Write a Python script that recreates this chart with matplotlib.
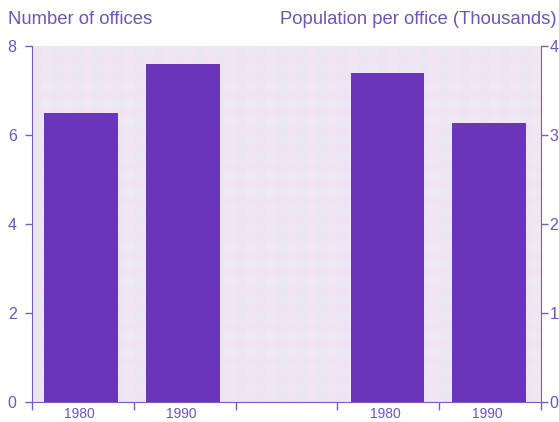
import matplotlib
matplotlib.use("Agg")
import matplotlib.pyplot as plt
import numpy as np

# offices and population per office, two census years each
years = ["1980", "1990"]
offices = [6.5, 7.6]
population_per_office = [3.7, 3.13]

purple = "#6a35b8"
text_purple = "#6f55b5"
axis_purple = "#7a5cc0"

plt.rcParams["font.family"] = ["Liberation Sans", "DejaVu Sans"]

fig = plt.figure(figsize=(5.59, 4.22), dpi=100)
fig.patch.set_facecolor("white")
ax = fig.add_axes([32 / 559, 20 / 422, 509 / 559, 356 / 422])
ax2 = ax.twinx()

# gingham-like background
ax.set_facecolor("#efe8f4")
for k in range(0, 40, 2):
    ax.axhspan(k * 0.2, k * 0.2 + 0.2, color="#f6dcf0", alpha=0.3, lw=0, zorder=0)
for k in range(0, 50, 2):
    ax.axvspan(k * 0.1, k * 0.1 + 0.1, color="#e2e4f6", alpha=0.3, lw=0, zorder=0)

left_x = np.arange(len(years)) + 0.5
right_x = np.arange(len(years)) + 3.5
ax.bar(left_x - 0.02, offices, width=0.73, color=purple, zorder=3)
ax2.bar(right_x - 0.01, population_per_office, width=0.72, color=purple, zorder=3)

ax.set_xlim(0, 5)
ax.set_ylim(0, 8)
ax2.set_ylim(0, 4)
ax.set_yticks([0, 2, 4, 6, 8])
ax2.set_yticks([0, 1, 2, 3, 4])
ax.set_xticks([0, 1, 2, 3, 4, 5])
ax.set_xticklabels([])
for x, lab in zip(np.concatenate([left_x, right_x]), years + years):
    ax.text(x - 0.03, -0.12, lab, ha="center", va="top", fontsize=10,
            color=text_purple, transform=ax.transData, clip_on=False)

for a in (ax, ax2):
    a.spines["top"].set_visible(False)
    a.spines["left"].set_color(axis_purple)
    a.spines["right"].set_color(axis_purple)
    a.spines["bottom"].set_color(axis_purple)
    a.tick_params(colors=axis_purple, labelcolor=text_purple, labelsize=11.5,
                  length=5, width=1, direction="out")
ax.spines["right"].set_visible(False)
ax2.spines["left"].set_visible(False)
ax2.spines["bottom"].set_visible(False)
ax.tick_params(axis="y", pad=6)
ax2.tick_params(axis="y", pad=1)
ax.tick_params(axis="x", length=6)

fig.text(8 / 559, 1 - 20 / 422, "Number of offices", fontsize=13.3,
         color=text_purple, ha="left", va="center")
fig.text(1 - 2 / 559, 1 - 20 / 422, "Population per office (Thousands)",
         fontsize=13.3, color=text_purple, ha="right", va="center")

fig.savefig("out.png", dpi=100)
